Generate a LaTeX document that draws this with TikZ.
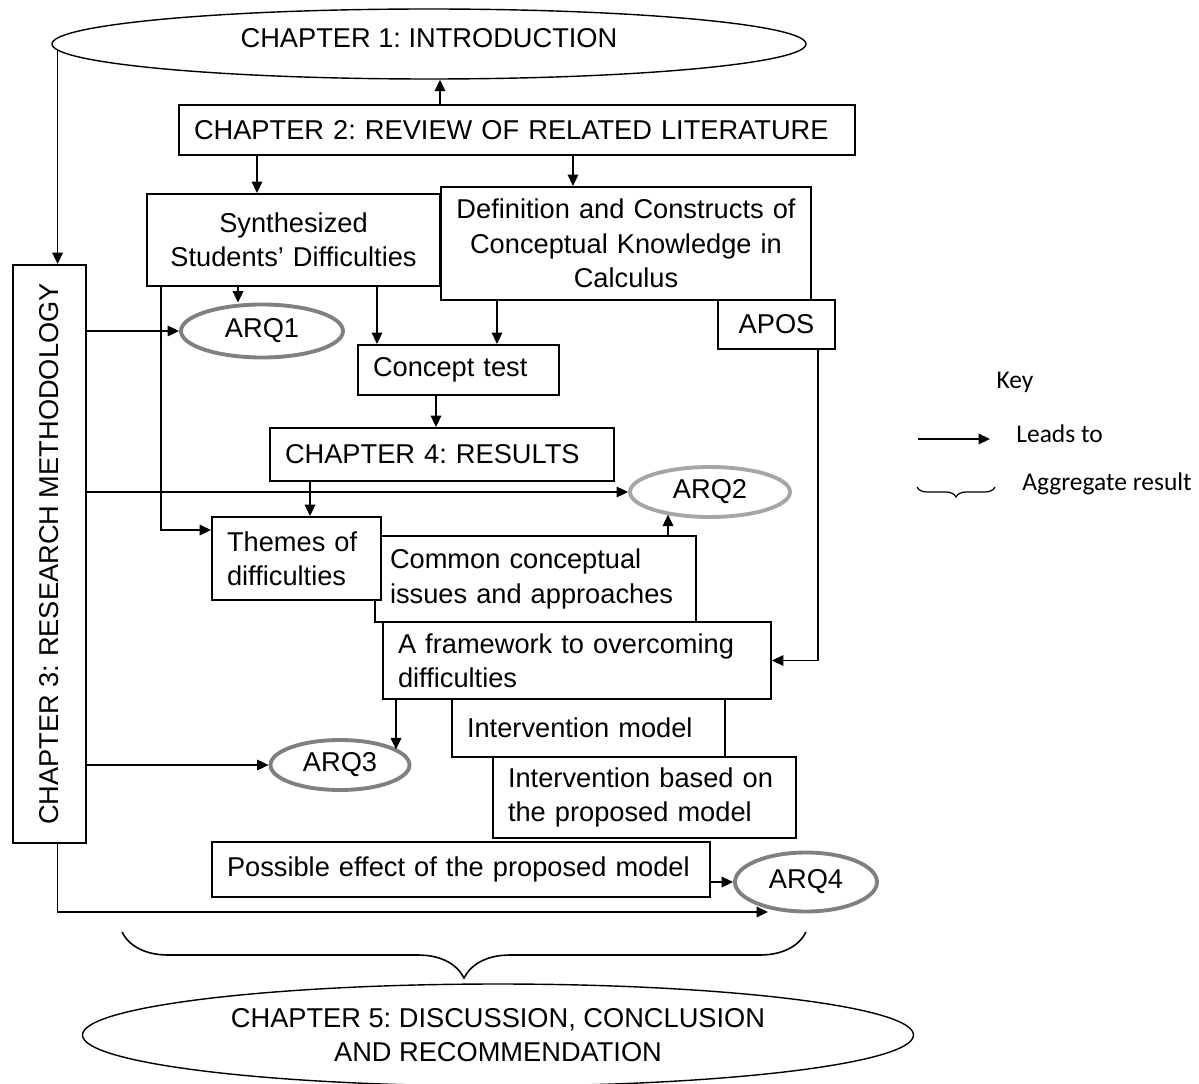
\documentclass[tikz,border=0pt]{standalone}
\usepackage{fontspec}
\usepackage{graphicx}
\setmainfont{Liberation Sans}
\newfontfamily\keyfont{Carlito}
\usetikzlibrary{arrows.meta,shapes.geometric,decorations.pathreplacing}
\newdimen\pxu \pxu=0.02cm
\frenchspacing
\begin{document}
\begin{tikzpicture}[x=0.02cm,y=-0.02cm,
  every node/.style={font=\fontsize{15.5}{19.5}\selectfont, text=black},
  box/.style={draw, fill=white, line width=1.1pt, rectangle, inner xsep=15\pxu, inner ysep=0pt},
  bx/.style n args={3}{minimum width=#1\pxu, minimum height=#2\pxu, text width=#3\pxu},
  chap/.style={ellipse, draw, line width=0.8pt, fill=white, inner sep=0pt, align=center},
  arq/.style={ellipse, draw=black!50, line width=2.2pt, fill=white, inner sep=0pt},
  arr/.style={line width=0.9pt, -{Triangle[length=6.5pt,width=6pt]}},
  keytext/.style={font=\keyfont\fontsize{14.5}{17}\selectfont, inner sep=0pt},
  bracket/.style={line width=0.9pt, decorate},
]
\fill[white] (0,0) rectangle (1199,1084);
\useasboundingbox (0,0) rectangle (1199,1084);

% chapters and their parts
\node[chap, minimum width=754\pxu, minimum height=70\pxu, text depth=12\pxu] (ch1) at (429,44) {CHAPTER 1: INTRODUCTION};
\node[box, bx={676}{50}{646}, align=left] (ch2) at (517,130) {CHAPTER 2: REVIEW OF RELATED LITERATURE};
\node[box, bx={293}{92}{283}, inner xsep=5\pxu, align=center] (syn) at (293.5,240) {Synthesized\\Students’ Difficulties};
\node[box, bx={370}{113}{360}, inner xsep=5\pxu, align=center] (def) at (626,243.5) {Definition and Constructs of\\Conceptual Knowledge in\\Calculus};
\node[box, bx={117}{49}{107}, inner xsep=5\pxu, align=center] (apos) at (776.5,324.5) {APOS};
\node[box, minimum width=73\pxu, minimum height=578\pxu] (ch3) at (49.5,554) {\rotatebox{90}{CHAPTER 3: RESEARCH METHODOLOGY}};
\node[arq, minimum width=162\pxu, minimum height=53\pxu] (arq1) at (262,331) {ARQ1};
\node[box, bx={201}{50}{171}, align=left] (ctest) at (458.5,370) {Concept test};
\node[box, bx={344}{53}{314}, align=left] (ch4) at (442,454.5) {CHAPTER 4: RESULTS};
\node[arq, draw=black!35, minimum width=160\pxu, minimum height=50\pxu] (arq2) at (710,492) {ARQ2};
\node[box, bx={321}{86}{291}, align=left] (common) at (535.5,579) {Common conceptual\\issues and approaches};
\node[box, bx={169}{83}{139}, align=left] (themes) at (296.5,558.5) {Themes of\\difficulties};
\node[box, bx={388}{77}{358}, align=left] (frame) at (577,660.5) {A framework to overcoming\\difficulties};
\node[arq, minimum width=139\pxu, minimum height=50\pxu] (arq3) at (340,765) {ARQ3};
\node[box, bx={273}{58}{243}, align=left] (imodel) at (588.5,728) {Intervention model};
\node[box, bx={303}{81}{273}, align=left] (ibased) at (644.5,797.5) {Intervention based on\\the proposed model};
\node[box, bx={498}{55}{468}, align=left] (poss) at (461,869.5) {Possible effect of the proposed model};
\node[arq, minimum width=142\pxu, minimum height=59\pxu] (arq4) at (806,882) {ARQ4};
\node[chap, minimum width=831\pxu, minimum height=102\pxu] (ch5) at (498,1035) {CHAPTER 5: DISCUSSION, CONCLUSION\\AND RECOMMENDATION};

% connector end points
\coordinate (p1) at ([xshift=-77\pxu]ch2.north);
\coordinate (p2) at ([xshift=-260\pxu]ch2.south);
\coordinate (p3) at ([xshift=56\pxu]ch2.south);
\coordinate (p4) at (ch1.181.4);
\coordinate (p6) at ([xshift=-55.5\pxu]syn.south);
\coordinate (p7) at ([xshift=83.5\pxu]syn.south);
\coordinate (p8) at ([xshift=-129\pxu]def.south);
\coordinate (p9) at ([xshift=-22.5\pxu]ctest.south);
\coordinate (p10) at ([xshift=-132\pxu]ch4.south);
\coordinate (p12) at ([xshift=-132.5\pxu]syn.south);
\coordinate (p12b) at ([yshift=-14\pxu]themes.north west);
\coordinate (p13) at ([xshift=132.5\pxu]common.north);
\coordinate (p14) at ([xshift=41.5\pxu]apos.south);
\coordinate (p15) at ([xshift=-181\pxu]frame.south);
\coordinate (p18) at (p4 |- ch3.south);
\coordinate (q4) at (768,912);

% connectors
\draw[arr] (p1) -- (p1 |- ch1.south);
\draw[arr] (p2) -- (p2 |- syn.north);
\draw[arr] (p3) -- (p3 |- def.north);
\draw[arr] (p4) -- (p4 |- ch3.north);
\draw[arr] (arq1.west -| ch3.east) -- (arq1.west);
\draw[arr] (p6) -- (p6 |- arq1.north);
\draw[arr] (p7) -- (p7 |- ctest.north);
\draw[arr] (p8) -- (p8 |- ctest.north);
\draw[arr] (p9) -- (p9 |- ch4.north);
\draw[arr] (p10) -- (p10 |- themes.north);
\draw[arr] (arq2.west -| ch3.east) -- (arq2.west);
\draw[arr] (p12) |- (p12b);
\draw[arr] (p13) -- (p13 |- arq2.207);
\draw[arr] (p14) |- (frame.east);
\draw[arr] (p15) -- (p15 |- arq3.15);
\draw[arr] (arq3.west -| ch3.east) -- (arq3.west);
\draw[arr] (arq4.west -| poss.east) -- (arq4.west);
\draw[arr] (p18) |- (q4);

% aggregate brace
\coordinate (b1) at (122,932);
\coordinate (b2) at (806,932);
\draw[bracket, decoration={brace, mirror, amplitude=46\pxu}] (b1) -- (b2);

% key
\node[keytext] (key) at (1015,382) {Key};
\coordinate (ka) at (918,439);
\coordinate (kb) at (990,439);
\draw[arr] (ka) -- (kb);
\node[keytext, anchor=west] (leads) at (1016,434) {Leads to};
\coordinate (kc) at (917,487);
\coordinate (kd) at (995,487);
\draw[bracket, line width=0.7pt, decoration={brace, mirror, amplitude=10\pxu}] (kc) -- (kd);
\node[keytext, anchor=west] (aggr) at (1022,484) {Aggregate result};
\end{tikzpicture}
\end{document}
